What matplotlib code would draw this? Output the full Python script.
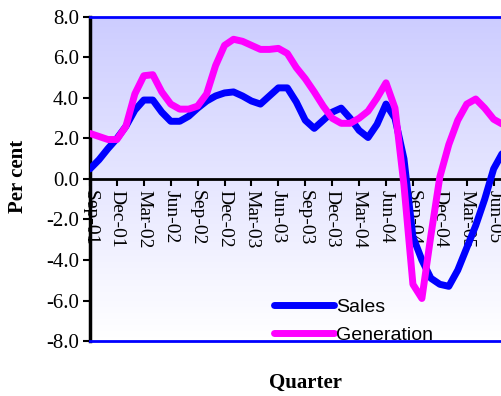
import numpy as np
import matplotlib.pyplot as plt

# monthly growth, Sep-01 onwards (per cent)
sales = [0.5, 0.95, 1.5, 2.0, 2.6, 3.4, 3.9, 3.9, 3.3, 2.85,
         2.85, 3.1, 3.5, 3.85, 4.1, 4.25, 4.3, 4.1, 3.85, 3.7,
         4.1, 4.5, 4.5, 3.8, 2.9, 2.5, 2.9, 3.3, 3.5, 3.0,
         2.4, 2.05, 2.7, 3.7, 3.0, 1.0, -2.85, -4.0, -4.9, -5.2,
         -5.3, -4.5, -3.4, -2.3, -1.0, 0.5, 1.3]
generation = [2.25, 2.1, 1.95, 1.95, 2.6, 4.2, 5.1, 5.15, 4.3, 3.7,
              3.45, 3.45, 3.6, 4.2, 5.6, 6.6, 6.9, 6.8, 6.6, 6.4,
              6.4, 6.45, 6.2, 5.5, 4.95, 4.3, 3.6, 3.0, 2.75, 2.75,
              3.0, 3.35, 4.0, 4.75, 3.5, -0.3, -5.2, -5.9, -2.8, 0.1,
              1.7, 2.9, 3.7, 3.95, 3.5, 2.95, 2.7]
quarters = ['Sep-01', 'Dec-01', 'Mar-02', 'Jun-02', 'Sep-02', 'Dec-02',
            'Mar-03', 'Jun-03', 'Sep-03', 'Dec-03', 'Mar-04', 'Jun-04',
            'Sep-04', 'Dec-04', 'Mar-05', 'Jun-05']
yticks = [-8, -6, -4, -2, 0, 2, 4, 6, 8]

months = np.arange(len(sales))
serif = 'Liberation Serif'
xmax = 440 / 8.97   # axes runs past the right edge of the figure

fig = plt.figure(figsize=(5.01, 3.96), dpi=100)
ax = fig.add_axes([90/501, 55/396, 440/501, 324/396])

# blue-to-white background in thin horizontal bands, stopping at the figure edge
top = np.array([204, 204, 255]) / 255
bot = np.array([255, 255, 255]) / 255
nb = 160
edges = np.linspace(-8, 8, nb + 1)
for i in range(nb):
    t = (i + 0.5) / nb
    ax.axhspan(edges[i], edges[i + 1], xmin=0, xmax=411/440,
               color=bot + (top - bot) * t, lw=0, zorder=0)

ax.plot(months, sales, color='#0000FF', lw=5, solid_joinstyle='round',
        solid_capstyle='round', label='Sales', zorder=3)
ax.plot(months, generation, color='#FF00FF', lw=5, solid_joinstyle='round',
        solid_capstyle='round', label='Generation', zorder=3)

ax.set_xlim(0, xmax)
ax.set_ylim(-8, 8)

# spines: x axis sits at zero, blue frame top and bottom
ax.spines['bottom'].set_position(('data', 0))
ax.spines['bottom'].set_linewidth(2)
ax.spines['left'].set_linewidth(2.5)
ax.spines['top'].set_color('#0000FF')
ax.spines['top'].set_linewidth(2)
ax.spines['right'].set_visible(False)
ax.axhline(-8, color='#0000FF', lw=2, clip_on=False, zorder=2.6)

ax.set_xticks(np.arange(0, 46, 3))
ax.set_xticklabels(quarters, rotation=270, fontsize=14, family=serif)
ax.tick_params(axis='x', direction='out', length=5, width=1.5, pad=3)
ax.set_yticks(yticks)
ax.set_yticklabels(['%.1f' % v for v in yticks], fontsize=15, family=serif)
ax.tick_params(axis='y', direction='out', length=5, width=1.5, pad=3)

fig.text(18/501, 1 - 176/396, 'Per cent', rotation=90, ha='center', va='center',
         fontsize=15, fontweight='bold', family=serif)
fig.text(305/501, 1 - 383/396, 'Quarter', ha='center', va='center',
         fontsize=15, fontweight='bold', family=serif)

leg = ax.legend(loc='lower left', bbox_to_anchor=(176/440, -0.033), frameon=False,
                prop={'family': 'Liberation Sans', 'size': 14},
                handlelength=3.1, handletextpad=0.1, labelspacing=0.55,
                borderaxespad=0)
leg.set_zorder(5)

fig.savefig('out.png', dpi=100)
